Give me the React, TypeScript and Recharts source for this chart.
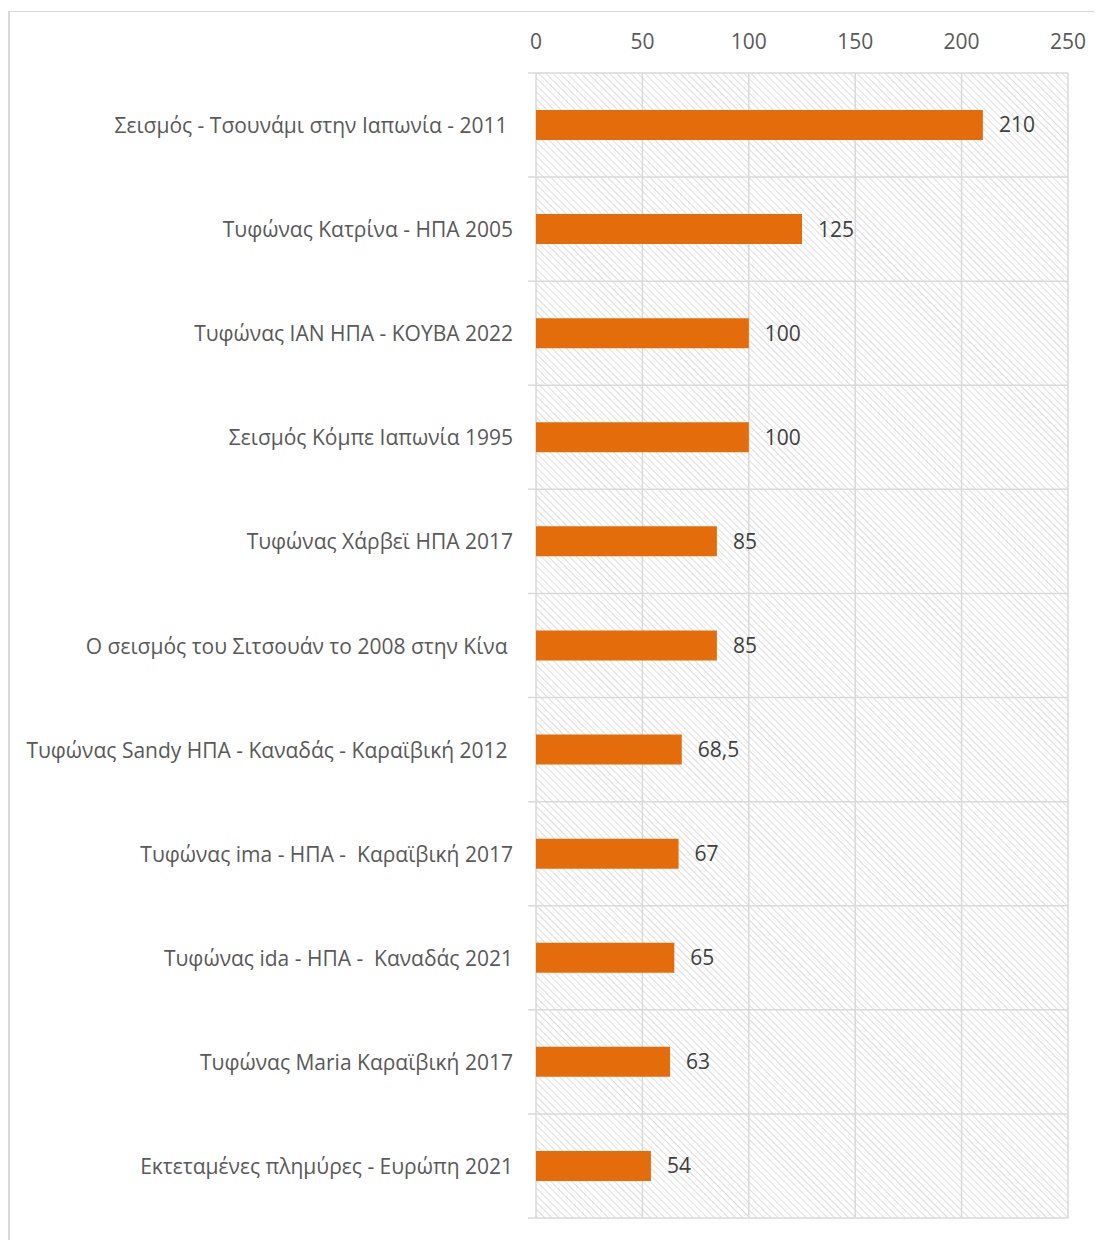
import React from 'react';
import { BarChart, Bar, XAxis, YAxis, CartesianGrid, LabelList } from 'recharts';

const categories = [
  'Σεισμός - Τσουνάμι στην Ιαπωνία - 2011 ',
  'Τυφώνας Κατρίνα - ΗΠΑ 2005',
  'Τυφώνας ΙΑΝ ΗΠΑ - ΚΟΥΒΑ 2022',
  'Σεισμός Κόμπε Ιαπωνία 1995',
  'Τυφώνας Χάρβεϊ ΗΠΑ 2017',
  'Ο σεισμός του Σιτσουάν το 2008 στην Κίνα ',
  'Τυφώνας Sandy ΗΠΑ - Καναδάς - Καραϊβική 2012 ',
  'Τυφώνας ima - ΗΠΑ -  Καραϊβική 2017',
  'Τυφώνας ida - ΗΠΑ -  Καναδάς 2021',
  'Τυφώνας Maria Καραϊβική 2017',
  'Εκτεταμένες πλημύρες - Ευρώπη 2021',
];
const values = [210, 125, 100, 100, 85, 85, 68.5, 67, 65, 63, 54];
const xTicks = [0, 50, 100, 150, 200, 250];

const data = categories.map((name, i) => ({ name, value: values[i] }));

const FONT = '"Open Sans", "Noto Sans", sans-serif';
const GRID = '#d9d9d9';

const CategoryTick = (props: any) => {
  const { x, y, payload } = props;
  return (
    <text
      x={x}
      y={y}
      textAnchor="end"
      dominantBaseline="central"
      fill="#595959"
      fontSize={21}
      fontFamily={FONT}
      style={{ whiteSpace: 'pre' }}
    >
      {payload.value}
    </text>
  );
};

const App: React.FC = () => {
  return (
    <div
      style={{
        marginTop: 3,
        width: 1092,
        height: 1229,
        borderTop: `1px solid ${GRID}`,
        borderLeft: `2px solid ${GRID}`,
        position: 'relative',
      }}
    >
      <svg width={0} height={0} style={{ position: 'absolute' }}>
        <defs>
          <pattern id="hatch" width={5} height={5} patternUnits="userSpaceOnUse" patternTransform="rotate(-45)">
            <line x1={0} y1={0} x2={0} y2={5} stroke="#dedede" strokeWidth={2} />
          </pattern>
        </defs>
      </svg>
      <BarChart
        width={1092}
        height={1228}
        data={data}
        layout="vertical"
        margin={{ top: 21, right: 34, bottom: 22, left: 10 }}
      >
        <CartesianGrid
          fill="url(#hatch)"
          stroke={GRID}
          strokeWidth={1.5}
          horizontalCoordinatesGenerator={({ offset }: any) =>
            categories.map((_, i) => offset.top + (i * offset.height) / categories.length).concat(offset.top + offset.height)
          }
          horizontal={(p: any) => (
            <line key={p.key} x1={p.x1 - 8} y1={p.y1} x2={p.x2} y2={p.y2} stroke={GRID} strokeWidth={1.5} />
          )}
        />
        <XAxis
          type="number"
          orientation="top"
          domain={[0, 250]}
          ticks={xTicks}
          height={40}
          axisLine={false}
          tickLine={false}
          tickSize={0}
          tickMargin={24}
          tick={{ fill: '#595959', fontSize: 21, fontFamily: FONT }}
        />
        <YAxis
          type="category"
          dataKey="name"
          width={516}
          axisLine={false}
          tickLine={false}
          tickSize={0}
          tickMargin={23}
          tick={<CategoryTick />}
          interval={0}
        />
        <Bar dataKey="value" fill="#E46C0A" barSize={30} isAnimationActive={false}>
          <LabelList
            dataKey="value"
            position="right"
            offset={16}
            fill="#404040"
            fontSize={21}
            fontFamily={FONT}
            formatter={(v: any) => String(v).replace('.', ',')}
          />
        </Bar>
      </BarChart>
    </div>
  );
};

export default App;
